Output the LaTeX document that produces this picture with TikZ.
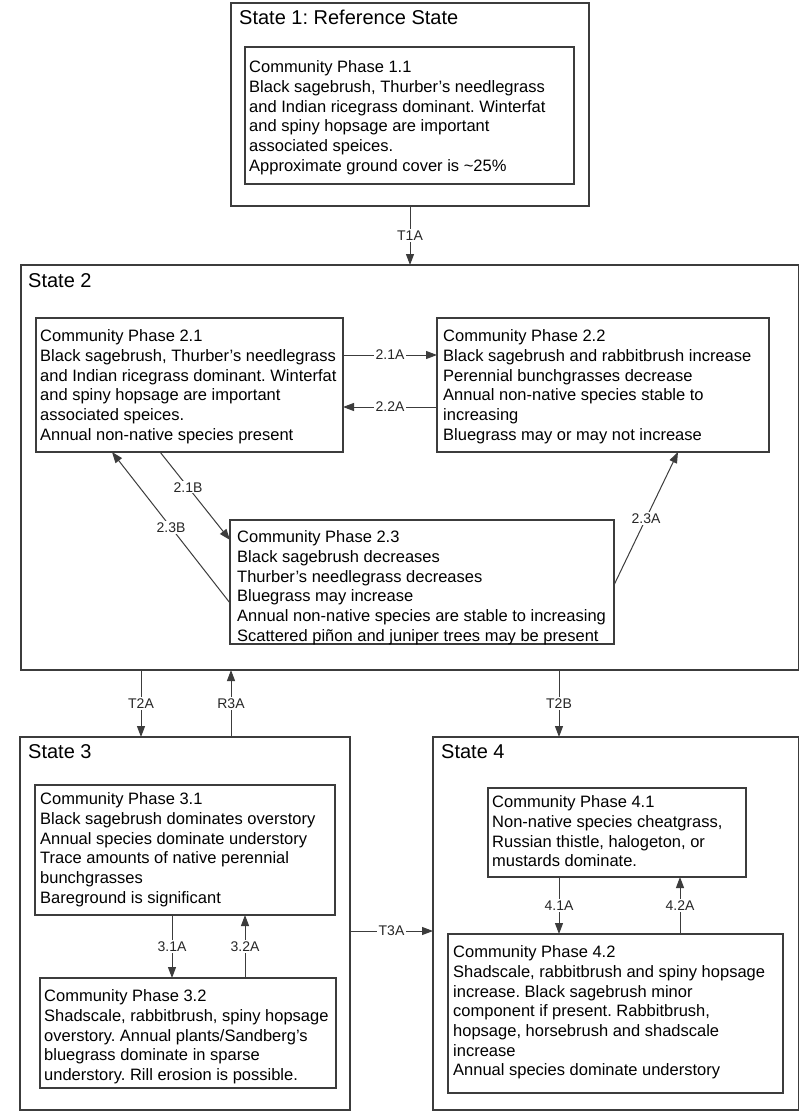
\documentclass[tikz,border=0pt]{standalone}
\usepackage{fontspec}
\setmainfont{Liberation Sans}
\usetikzlibrary{arrows.meta}
\definecolor{linec}{RGB}{60,60,60}
\frenchspacing
\begin{document}
\begin{tikzpicture}[x=1pt,y=-1pt,
  box/.style={draw=linec, line width=1.2pt, inner sep=0pt, outer sep=0pt, fill=none},
  txt/.style={align=left, inner sep=0pt, anchor=north west, text=black, font=\fontsize{16.5}{19.7}\selectfont},
  ttl/.style={inner sep=0pt, anchor=west, text=black, font=\fontsize{20}{24}\selectfont},
  arr/.style={draw=linec, line width=1pt, -{Triangle[length=11pt,width=8pt]}},
  lbl/.style={fill=white, inner sep=1.2pt, text=black!85, font=\fontsize{14}{16}\selectfont}
]
\newcommand\boxat[5]{\node[box, anchor=north west, minimum width={#4-#2}, minimum height={#5-#3}] (#1) at (#2,#3) {};}
\useasboundingbox (0,0) rectangle (800,1113);
\fill[white] (0,0) rectangle (800,1113);

% states
\boxat{s1}{231}{3}{589}{206}
\boxat{s2}{21}{265}{798.5}{670}
\boxat{s3}{20}{737}{350}{1110}
\boxat{s4}{433}{737}{798.5}{1110}
\node[ttl] (s1t) at (239,17) {State 1: Reference State};
\node[ttl] (s2t) at (28,281) {State 2};
\node[ttl] (s3t) at (28,752) {State 3};
\node[ttl] (s4t) at (441,752) {State 4};

% community phases
\boxat{c11}{245}{47}{574}{184}
\node[txt] (c11t) at (249,60.5) {Community Phase 1.1\\Black sagebrush, Thurber’s needlegrass\\and Indian ricegrass dominant. Winterfat\\and spiny hopsage are important\\associated speices.\\Approximate ground cover is \textasciitilde25\%};

\boxat{c21}{36}{318}{343}{452}
\node[txt] (c21t) at (40,329.5) {Community Phase 2.1\\Black sagebrush, Thurber’s needlegrass\\and Indian ricegrass dominant. Winterfat\\and spiny hopsage are important\\associated speices.\\Annual non-native species present};

\boxat{c22}{437}{318}{769}{452}
\node[txt] (c22t) at (443,329.5) {Community Phase 2.2\\Black sagebrush and rabbitbrush increase\\Perennial bunchgrasses decrease\\Annual non-native species stable to\\increasing\\Bluegrass may or may not increase};

\boxat{c23}{230}{520}{614}{644}
\node[txt] (c23t) at (237,530.5) {Community Phase 2.3\\Black sagebrush decreases\\Thurber’s needlegrass decreases\\Bluegrass may increase\\Annual non-native species are stable to increasing\\Scattered piñon and juniper trees may be present};

\boxat{c31}{35}{785}{335}{915}
\node[txt] (c31t) at (40,792.5) {Community Phase 3.1\\Black sagebrush dominates overstory\\Annual species dominate understory\\Trace amounts of native perennial\\bunchgrasses\\Bareground is significant};

\boxat{c32}{40}{978}{336}{1088}
\node[txt] (c32t) at (44,989.5) {Community Phase 3.2\\Shadscale, rabbitbrush, spiny hopsage\\overstory. Annual plants/Sandberg’s\\bluegrass dominate in sparse\\understory. Rill erosion is possible.};

\boxat{c41}{488}{788}{746}{877}
\node[txt] (c41t) at (492,795.5) {Community Phase 4.1\\Non-native species cheatgrass,\\Russian thistle, halogeton, or\\mustards dominate.};

\boxat{c42}{448}{934}{783}{1093}
\node[txt] (c42t) at (453,945.5) {Community Phase 4.2\\Shadscale, rabbitbrush and spiny hopsage\\increase. Black sagebrush minor\\component if present. Rabbitbrush,\\hopsage, horsebrush and shadscale\\increase\\Annual species dominate understory};

% transitions
\draw[arr] (s1.south) -- node[lbl] {T1A} (s1.south |- s2.north);
\draw[arr] (c21.east |- 0,355) -- node[lbl] {2.1A} (c22.west |- 0,355);
\draw[arr] (c22.west |- 0,407) -- node[lbl] {2.2A} (c21.east |- 0,407);
\draw[arr] (160,0 |- c21.south) -- node[lbl, pos=0.4] {2.1B} (c23.west |- 0,540);
\draw[arr] (c23.west |- 0,603) -- node[lbl, pos=0.5] {2.3B} (112,0 |- c21.south);
\draw[arr] (c23.east |- 0,585) -- node[lbl, pos=0.5] {2.3A} (678,0 |- c22.south);
\draw[arr] (141,0 |- s2.south) -- node[lbl] {T2A} (141,0 |- s3.north);
\draw[arr] (231,0 |- s3.north) -- node[lbl] {R3A} (231,0 |- s2.south);
\draw[arr] (559,0 |- s2.south) -- node[lbl] {T2B} (559,0 |- s4.north);
\draw[arr] (172,0 |- c31.south) -- node[lbl] {3.1A} (172,0 |- c32.north);
\draw[arr] (245,0 |- c32.north) -- node[lbl] {3.2A} (245,0 |- c31.south);
\draw[arr] (s3.east |- 0,931) -- node[lbl] {T3A} (s4.west |- 0,931);
\draw[arr] (559,0 |- c41.south) -- node[lbl] {4.1A} (559,0 |- c42.north);
\draw[arr] (680,0 |- c42.north) -- node[lbl] {4.2A} (680,0 |- c41.south);
\end{tikzpicture}
\end{document}
